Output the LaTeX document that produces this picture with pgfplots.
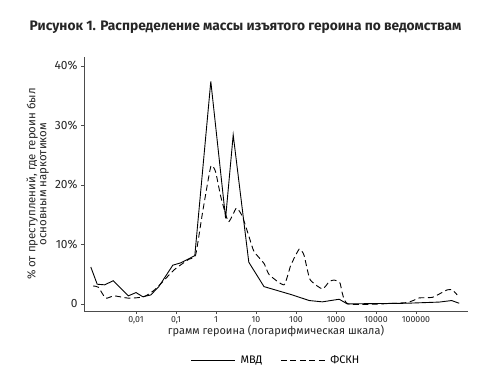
\documentclass[border=0pt]{standalone}
\usepackage{pgfplots}
\pgfplotsset{compat=1.18}
\usepackage{fontspec}
\setmainfont{Fira Sans}
\begin{document}
\begin{tikzpicture}[x=1bp,y=1bp]
\useasboundingbox (0,0) rectangle (492,384);
\node[font=\bfseries\fontsize{13.8}{15}\selectfont, text=black!85] at (245.5,357) {Рисунок 1. Распределение массы изъятого героина по ведомствам};
\begin{axis}[
  at={(84bp,73bp)}, anchor=south west,
  scale only axis, width=384bp, height=254bp,
  xmin=-3.3, xmax=6.3, ymin=-1.2, ymax=41.5,
  axis lines*=left,
  axis line style={black!70, line width=0.6pt},
  tick style={black!70, line width=0.5pt},
  tick align=outside, major tick length=3bp,
  xtick={-2,-1,0,1,2,3,4,5},
  xticklabels={{0,01},{0,1},1,10,100,1000,10000,100000},
  ytick={0,10,20,30,40},
  yticklabels={0,10\%,20\%,30\%,40\%},
  x tick label style={font=\fontsize{8.8}{10}\selectfont, text=black!85, yshift=1bp},
  y tick label style={font=\fontsize{12}{13}\selectfont, text=black!85},
  xlabel={грамм героина (логарифмическая шкала)},
  xlabel style={font=\fontsize{11}{12}\selectfont, text=black!85, yshift=6bp},
  ylabel={\% от преступлений, где героин был\\основным наркотиком},
  ylabel style={font=\fontsize{11.5}{11}\selectfont, text=black!85, align=center, yshift=-1bp},
  legend style={at={(0.5,-0.16)}, anchor=north, draw=none, legend columns=2,
    font=\fontsize{11}{12}\selectfont, /tikz/every even column/.append style={column sep=16bp}},
  legend image code/.code={\draw[#1] (0bp,0bp) -- (44bp,0bp); \path (47bp,0bp);},
]
\addplot[black, line width=0.9pt] coordinates {
(-3.13,6.2) (-2.97,3.3) (-2.78,3.2) (-2.57,3.9) (-2.19,1.35) (-2.0,1.9)
(-1.83,1.2) (-1.63,1.5) (-1.43,2.9) (-1.08,6.5) (-0.88,6.9) (-0.53,8.1)
(-0.13,37.4) (0.24,14.4) (0.43,28.4) (0.82,7.0) (1.2,2.9) (1.91,1.5)
(2.33,0.56) (2.66,0.34) (3.08,0.78) (3.28,0) (4.74,0.1) (5.58,0.3)
(5.89,0.56) (6.08,0.1)
};
\addlegendentry{МВД}
\addplot[black, line width=0.9pt, dash pattern=on 6bp off 3.5bp, smooth, tension=0.3] coordinates {
(-3.07,3.0) (-2.94,2.8) (-2.76,0.95) (-2.55,1.35) (-2.18,0.95) (-1.8,1.2)
(-1.51,2.5) (-1.05,5.7) (-0.68,7.5) (-0.51,8.2) (-0.34,15.2) (-0.13,23.1)
(-0.01,22.2) (0.12,18) (0.31,13.8) (0.51,16.1) (0.66,14.7) (0.83,11.2)
(0.95,8.8) (1.2,6.8) (1.33,4.9) (1.7,3.2) (1.87,6.5) (2.08,9.2) (2.2,8.2)
(2.35,4.1) (2.66,2.5) (2.83,3.75) (2.95,4.0) (3.1,3.5) (3.3,0)
(4.74,0.2) (5.08,1.0) (5.41,1.1) (5.78,2.35) (5.91,2.35) (6.03,1.5)
};
\addlegendentry{ФСКН}
\end{axis}
\end{tikzpicture}
\end{document}
